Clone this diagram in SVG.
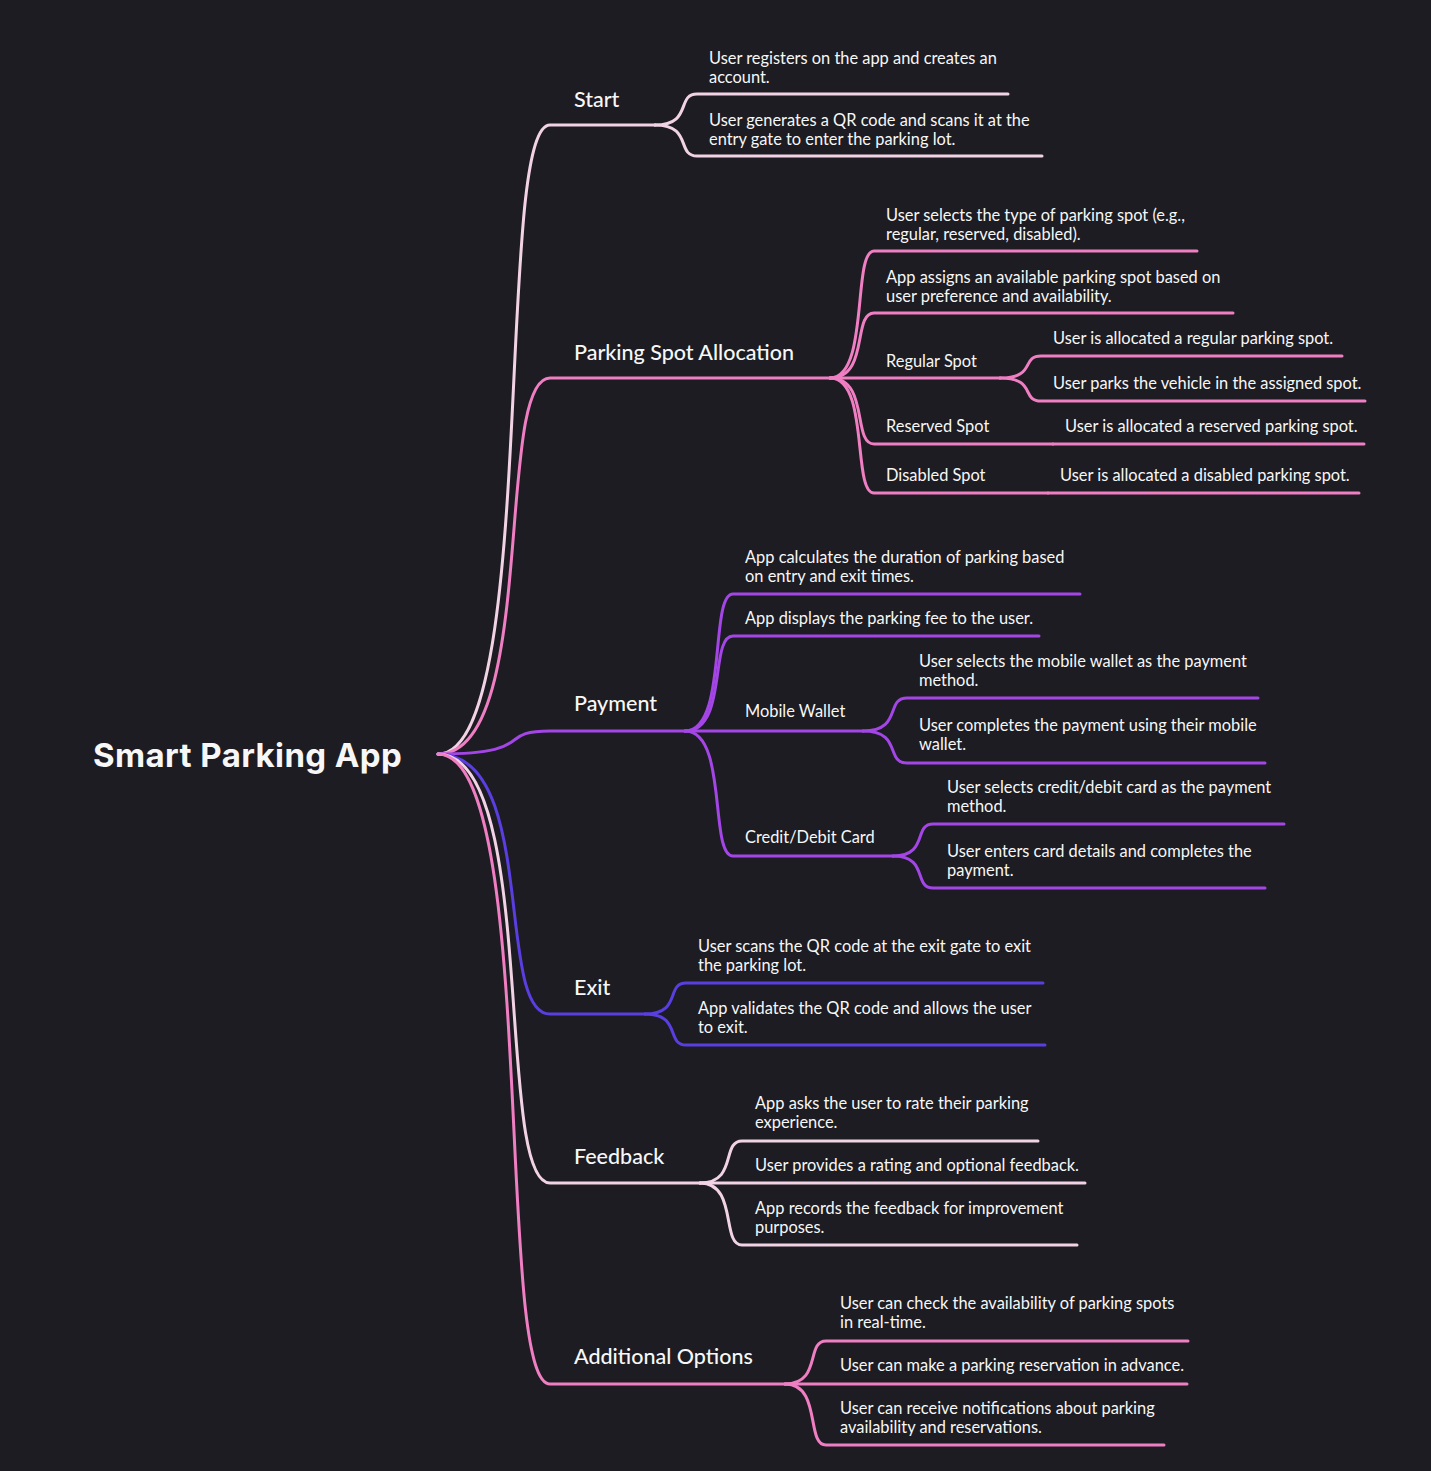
<svg xmlns="http://www.w3.org/2000/svg" width="1431" height="1471" viewBox="0 0 1431 1471">
<style>
.bg{fill:#1c1c22}
.ln{fill:none;stroke-width:3;stroke-linecap:round}
.lp{stroke:#f2d3e5}
.pk{stroke:#ef7ec2}
.pu{stroke:#a446e6}
.in{stroke:#5b3ee0}
text{fill:#f7f7f7;font-family:Lato,"Noto Sans",sans-serif}
.root{font-family:Inter,Lato,sans-serif;font-size:33px;font-weight:700;letter-spacing:0.4px}
.br{font-size:21.5px;font-weight:500}
.lf{font-size:16.4px}
</style>
<rect class="bg" x="0" y="0" width="1431" height="1471"/>
<g id="connectors">
<path class="ln lp" d="M438,754 C539,754 494,125 550,125 L655,125"/>
<path class="ln pk" d="M438,754 C539,754 494,378 550,378 L830,378"/>
<path class="ln pu" d="M438,754 C539,754 494,731 550,731 L685,731"/>
<path class="ln in" d="M438,754 C539,754 494,1014 550,1014 L645,1014"/>
<path class="ln lp" d="M438,754 C539,754 494,1183 550,1183 L700,1183"/>
<path class="ln pk" d="M438,754 C539,754 494,1384 550,1384 L785,1384"/>
<path class="ln lp" d="M655,125 C692.8,125 676,94 697,94 L1008,94"/>
<path class="ln lp" d="M655,125 C692.8,125 676,156 697,156 L1042,156"/>
<path class="ln pk" d="M830,378 C869.6,378 852,251 874,251 L1197,251"/>
<path class="ln pk" d="M830,378 C869.6,378 852,313 874,313 L1233,313"/>
<path class="ln pk" d="M830,378 L1000,378"/>
<path class="ln pk" d="M830,378 C869.6,378 852,444 874,444 L1053,444"/>
<path class="ln pk" d="M830,378 C869.6,378 852,493 874,493 L1048,493"/>
<path class="ln pk" d="M1000,378 C1036.9,378 1020.5,356 1041,356 L1342,356"/>
<path class="ln pk" d="M1000,378 C1036.9,378 1020.5,401 1041,401 L1365,401"/>
<path class="ln pk" d="M1053,444 L1364,444"/>
<path class="ln pk" d="M1048,493 L1359,493"/>
<path class="ln pu" d="M685,731 C728.2,731 709,594 733,594 L1080,594"/>
<path class="ln pu" d="M685,731 C728.2,731 709,636 733,636 L1039,636"/>
<path class="ln pu" d="M685,731 L863,731"/>
<path class="ln pu" d="M685,731 C728.2,731 709,856 733,856 L893,856"/>
<path class="ln pu" d="M863,731 C902.6,731 885,698 907,698 L1258,698"/>
<path class="ln pu" d="M863,731 C902.6,731 885,763 907,763 L1265,763"/>
<path class="ln pu" d="M893,856 C929,856 913,824 933,824 L1284,824"/>
<path class="ln pu" d="M893,856 C929,856 913,888 933,888 L1265,888"/>
<path class="ln in" d="M645,1014 C681.9,1014 665.5,983 686,983 L1043,983"/>
<path class="ln in" d="M645,1014 C681.9,1014 665.5,1045 686,1045 L1045,1045"/>
<path class="ln lp" d="M700,1183 C737.8,1183 721,1141 742,1141 L1038,1141"/>
<path class="ln lp" d="M700,1183 L1085,1183"/>
<path class="ln lp" d="M700,1183 C737.8,1183 721,1245 742,1245 L1077,1245"/>
<path class="ln pk" d="M785,1384 C821.9,1384 805.5,1341 826,1341 L1188,1341"/>
<path class="ln pk" d="M785,1384 L1187,1384"/>
<path class="ln pk" d="M785,1384 C821.9,1384 805.5,1445 826,1445 L1164,1445"/>
</g>
<g id="root"><text class="root" x="93" y="767">Smart Parking App</text></g>
<g id="start"><text class="br" x="574" y="107">Start</text></g>
<g id="start-1"><text class="lf" x="709" y="64">User registers on the app and creates an</text><text class="lf" x="709" y="83">account.</text></g>
<g id="start-2"><text class="lf" x="709" y="126">User generates a QR code and scans it at the</text><text class="lf" x="709" y="145">entry gate to enter the parking lot.</text></g>
<g id="psa"><text class="br" x="574" y="360">Parking Spot Allocation</text></g>
<g id="psa-1"><text class="lf" x="886" y="221">User selects the type of parking spot (e.g.,</text><text class="lf" x="886" y="240">regular, reserved, disabled).</text></g>
<g id="psa-2"><text class="lf" x="886" y="283">App assigns an available parking spot based on</text><text class="lf" x="886" y="302">user preference and availability.</text></g>
<g id="regular"><text class="lf" x="886" y="367">Regular Spot</text></g>
<g id="regular-1"><text class="lf" x="1053" y="344">User is allocated a regular parking spot.</text></g>
<g id="regular-2"><text class="lf" x="1053" y="389">User parks the vehicle in the assigned spot.</text></g>
<g id="reserved"><text class="lf" x="886" y="432">Reserved Spot</text></g>
<g id="reserved-1"><text class="lf" x="1065" y="432">User is allocated a reserved parking spot.</text></g>
<g id="disabled"><text class="lf" x="886" y="481">Disabled Spot</text></g>
<g id="disabled-1"><text class="lf" x="1060" y="481">User is allocated a disabled parking spot.</text></g>
<g id="payment"><text class="br" x="574" y="711">Payment</text></g>
<g id="payment-1"><text class="lf" x="745" y="563">App calculates the duration of parking based</text><text class="lf" x="745" y="582">on entry and exit times.</text></g>
<g id="payment-2"><text class="lf" x="745" y="624">App displays the parking fee to the user.</text></g>
<g id="wallet"><text class="lf" x="745" y="717">Mobile Wallet</text></g>
<g id="wallet-1"><text class="lf" x="919" y="667">User selects the mobile wallet as the payment</text><text class="lf" x="919" y="686">method.</text></g>
<g id="wallet-2"><text class="lf" x="919" y="731">User completes the payment using their mobile</text><text class="lf" x="919" y="750">wallet.</text></g>
<g id="card"><text class="lf" x="745" y="843">Credit/Debit Card</text></g>
<g id="card-1"><text class="lf" x="947" y="793">User selects credit/debit card as the payment</text><text class="lf" x="947" y="812">method.</text></g>
<g id="card-2"><text class="lf" x="947" y="857">User enters card details and completes the</text><text class="lf" x="947" y="876">payment.</text></g>
<g id="exit"><text class="br" x="574" y="995">Exit</text></g>
<g id="exit-1"><text class="lf" x="698" y="952">User scans the QR code at the exit gate to exit</text><text class="lf" x="698" y="971">the parking lot.</text></g>
<g id="exit-2"><text class="lf" x="698" y="1014">App validates the QR code and allows the user</text><text class="lf" x="698" y="1033">to exit.</text></g>
<g id="feedback"><text class="br" x="574" y="1164">Feedback</text></g>
<g id="feedback-1"><text class="lf" x="755" y="1109">App asks the user to rate their parking</text><text class="lf" x="755" y="1128">experience.</text></g>
<g id="feedback-2"><text class="lf" x="755" y="1171">User provides a rating and optional feedback.</text></g>
<g id="feedback-3"><text class="lf" x="755" y="1214">App records the feedback for improvement</text><text class="lf" x="755" y="1233">purposes.</text></g>
<g id="additional"><text class="br" x="574" y="1364">Additional Options</text></g>
<g id="additional-1"><text class="lf" x="840" y="1309">User can check the availability of parking spots</text><text class="lf" x="840" y="1328">in real-time.</text></g>
<g id="additional-2"><text class="lf" x="840" y="1371">User can make a parking reservation in advance.</text></g>
<g id="additional-3"><text class="lf" x="840" y="1414">User can receive notifications about parking</text><text class="lf" x="840" y="1433">availability and reservations.</text></g>
</svg>
